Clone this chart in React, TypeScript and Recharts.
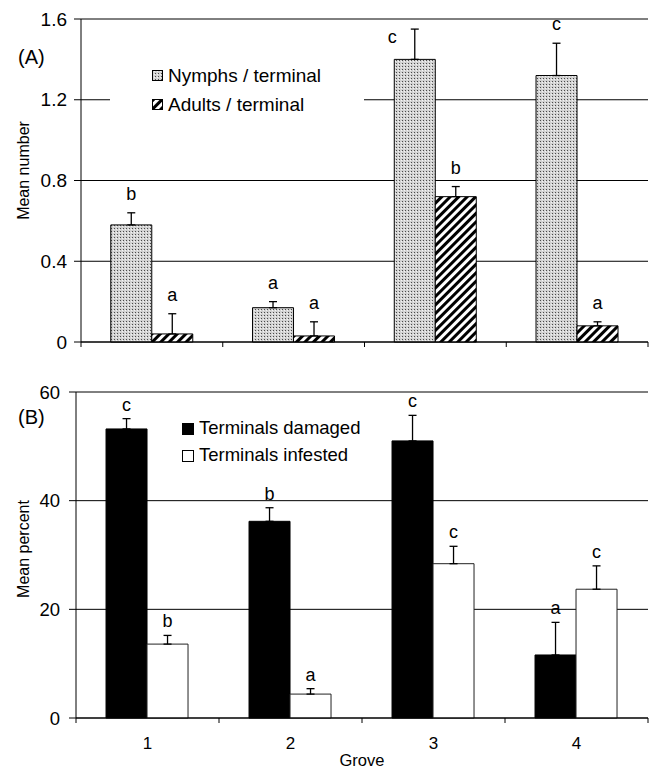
import React from 'react';
import { BarChart, Bar, XAxis, YAxis, CartesianGrid, ErrorBar, LabelList, Legend, Label } from 'recharts';

const groves = ['1', '2', '3', '4'];

// Panel A: mean number per terminal
const seriesNamesA = ['Nymphs / terminal', 'Adults / terminal'];
const nymphs = [0.58, 0.17, 1.4, 1.32];
const nymphsErr = [0.06, 0.03, 0.15, 0.16];
const nymphsLetters = ['b', 'a', 'c', 'c'];
const adults = [0.04, 0.03, 0.72, 0.08];
const adultsErr = [0.1, 0.07, 0.05, 0.02];
const adultsLetters = ['a', 'a', 'b', 'a'];
const ticksA = [0, 0.4, 0.8, 1.2, 1.6];

// Panel B: mean percent of terminals
const seriesNamesB = ['Terminals damaged', 'Terminals infested'];
const damaged = [53.2, 36.2, 51.0, 11.6];
const damagedErr = [1.9, 2.5, 4.7, 6.0];
const damagedLetters = ['c', 'b', 'c', 'a'];
const infested = [13.6, 4.4, 28.4, 23.7];
const infestedErr = [1.6, 1.0, 3.2, 4.3];
const infestedLetters = ['b', 'a', 'c', 'c'];
const ticksB = [0, 20, 40, 60];

const dataA = groves.map((g, i) => ({
  grove: g,
  nymphs: nymphs[i],
  nymphsErr: [0, nymphsErr[i]],
  nymphsLetter: nymphsLetters[i],
  adults: adults[i],
  adultsErr: [0, adultsErr[i]],
  adultsLetter: adultsLetters[i],
}));

const dataB = groves.map((g, i) => ({
  grove: g,
  damaged: damaged[i],
  damagedErr: [0, damagedErr[i]],
  damagedLetter: damagedLetters[i],
  infested: infested[i],
  infestedErr: [0, infestedErr[i]],
  infestedLetter: infestedLetters[i],
}));

const FONT = '"Liberation Sans", Arial, Helvetica, sans-serif';
const LETTER_FS = 18;

const makeLetter = (values: number[], errs: number[], domainMax: number, gap: number) => (props: any) => {
  const vb = props.viewBox || {};
  const x = props.x ?? vb.x;
  const y = props.y ?? vb.y;
  const w = props.width ?? vb.width;
  const h = props.height ?? vb.height;
  const i = props.index;
  const top = Math.min(y, y + h);
  const hh = Math.abs(h);
  const ppu = hh / values[i];
  const errTop = top - errs[i] * ppu;
  const plotTop = top + hh - domainMax * ppu;
  let lx = x + w / 2;
  let ly = errTop - gap;
  if (ly - LETTER_FS * 0.52 < plotTop) {
    lx = x - 2;
    ly = top - 16;
  }
  return (
    <text x={lx} y={ly} textAnchor="middle" fontSize={LETTER_FS} fontFamily={FONT} fill="#000">
      {props.value}
    </text>
  );
};

const yTitle = (text: string, dy: number) => (props: any) => {
  const vb = props.viewBox;
  return (
    <text
      transform={`translate(${vb.x + 29}, ${vb.y + vb.height / 2 + dy}) rotate(-90)`}
      textAnchor="middle"
      fontSize={16}
      fontFamily={FONT}
      fill="#000"
    >
      {text}
    </text>
  );
};

// category tick: boundary tick marks (left edge of each band, plus right edge of the last) and optional label
const makeXTick = (showLabel: boolean) => (props: any) => {
  const { x, y, payload, index, visibleTicksCount } = props;
  const half = payload && typeof payload.offset === 'number' ? payload.offset : 0;
  const left = x - half;
  const right = x + half;
  const isLast = index === (visibleTicksCount ?? groves.length) - 1;
  return (
    <g>
      <line x1={left} y1={y} x2={left} y2={y + 5} stroke="#000" strokeWidth={1} />
      {isLast && <line x1={right} y1={y} x2={right} y2={y + 5} stroke="#000" strokeWidth={1} />}
      {showLabel && (
        <text x={x} y={y + 31} textAnchor="middle" fontSize={17} fontFamily={FONT} fill="#000">
          {payload.value}
        </text>
      )}
    </g>
  );
};

const Patterns = ({ suffix }: { suffix: string }) => (
  <defs>
    <pattern id={`stip${suffix}`} width={3} height={3} patternUnits="userSpaceOnUse">
      <rect width={3} height={3} fill="#d2d2d2" />
      <rect x={0} y={0} width={1} height={1} fill="#4a4a4a" />
      <rect x={2} y={1} width={1} height={1} fill="#f4f4f4" />
    </pattern>
    <pattern id={`hatch${suffix}`} width={6} height={6} patternUnits="userSpaceOnUse" patternTransform="rotate(45)">
      <rect width={6} height={6} fill="#fff" />
      <rect width={3} height={6} fill="#000" />
    </pattern>
  </defs>
);

const LegendA = () => (
  <div
    style={{
      background: '#fff',
      width: 254,
      height: 58,
      boxSizing: 'border-box',
      paddingLeft: 42,
      fontFamily: FONT,
      fontSize: 19,
      color: '#000',
    }}
  >
    {seriesNamesA.map((name, i) => (
      <div key={i} style={{ height: 29, display: 'flex', alignItems: 'center' }}>
        <svg width={11} height={11} style={{ display: 'block' }}>
          <Patterns suffix={`L${i}`} />
          <rect
            x={0.5}
            y={0.5}
            width={10}
            height={10}
            fill={i === 0 ? `url(#stipL${i})` : `url(#hatchL${i})`}
            stroke="#000"
            strokeWidth={1}
          />
        </svg>
        <span style={{ marginLeft: 5, lineHeight: 1 }}>{name}</span>
      </div>
    ))}
  </div>
);

const LegendB = () => (
  <div
    style={{
      width: 220,
      height: 54,
      boxSizing: 'border-box',
      paddingLeft: 22,
      fontFamily: FONT,
      fontSize: 18.5,
      color: '#000',
    }}
  >
    {seriesNamesB.map((name, i) => (
      <div key={i} style={{ height: 27, display: 'flex', alignItems: 'center' }}>
        <svg width={12} height={12} style={{ display: 'block' }}>
          <rect x={0.5} y={0.5} width={11} height={11} fill={i === 0 ? '#000' : '#fff'} stroke="#000" strokeWidth={1} />
        </svg>
        <span style={{ marginLeft: 5, lineHeight: 1 }}>{name}</span>
      </div>
    ))}
  </div>
);

const tickStyle = (fs: number) => ({ fontSize: fs, fill: '#000', fontFamily: FONT });

export default function App() {
  return (
    <div style={{ position: 'absolute', left: 0, top: 0, width: 656, height: 770, background: '#fff' }}>
      <div style={{ position: 'absolute', left: 0, top: 0 }}>
        <BarChart
          width={656}
          height={370}
          data={dataA}
          margin={{ top: 19, right: 8, bottom: 0, left: 0 }}
          barCategoryGap="21%"
          barGap={0}
        >
          <Patterns suffix="A" />
          <CartesianGrid vertical={false} stroke="#000" strokeWidth={1} />
          <XAxis
            dataKey="grove"
            height={28}
            interval={0}
            tickSize={0}
            tickMargin={0}
            tickLine={false}
            tick={makeXTick(false)}
            axisLine={{ stroke: '#000' }}
          />
          <YAxis
            domain={[0, 1.6]}
            ticks={ticksA}
            width={81}
            tickSize={7}
            tickMargin={7}
            tick={tickStyle(19)}
            axisLine={{ stroke: '#000' }}
            tickLine={{ stroke: '#000' }}
            label={<Label content={yTitle('Mean number', -10)} />}
          />
          <YAxis
            yAxisId="r"
            orientation="right"
            domain={[0, 1]}
            width={0}
            tick={false}
            tickLine={false}
            axisLine={{ stroke: '#000' }}
            allowDataOverflow
          />
          <Bar dataKey="nymphs" name={seriesNamesA[0]} fill="url(#stipA)" stroke="#000" strokeWidth={1} isAnimationActive={false}>
            <ErrorBar dataKey="nymphsErr" width={4} stroke="#000" strokeWidth={1.3} direction="y" />
            <LabelList dataKey="nymphsLetter" content={makeLetter(nymphs, nymphsErr, 1.6, 13)} />
          </Bar>
          <Bar dataKey="adults" name={seriesNamesA[1]} fill="url(#hatchA)" stroke="#000" strokeWidth={1} isAnimationActive={false}>
            <ErrorBar dataKey="adultsErr" width={4} stroke="#000" strokeWidth={1.3} direction="y" />
            <LabelList dataKey="adultsLetter" content={makeLetter(adults, adultsErr, 1.6, 13)} />
          </Bar>
          <Legend
            layout="horizontal"
            verticalAlign="middle"
            align="center"
            content={LegendA}
            wrapperStyle={{ left: 110, top: 61, width: 254, height: 58 }}
          />
          <text x={18} y={64} fontSize={20} fontFamily={FONT} fill="#000">(A)</text>
        </BarChart>
      </div>
      <div style={{ position: 'absolute', left: 0, top: 370 }}>
        <BarChart
          width={656}
          height={400}
          data={dataB}
          margin={{ top: 22, right: 8, bottom: 0, left: 0 }}
          barCategoryGap="21%"
          barGap={0}
        >
          <CartesianGrid vertical={false} stroke="#000" strokeWidth={1} />
          <XAxis
            dataKey="grove"
            height={52}
            interval={0}
            tickSize={0}
            tickMargin={0}
            tickLine={false}
            tick={makeXTick(true)}
            axisLine={{ stroke: '#000' }}
          >
            <Label
              value="Grove"
              position="insideBottom"
              offset={4}
              style={{ fontSize: 16.5, fill: '#000', fontFamily: FONT }}
            />
          </XAxis>
          <YAxis
            domain={[0, 60]}
            ticks={ticksB}
            width={76}
            tickSize={7}
            tickMargin={9}
            tick={tickStyle(18.5)}
            axisLine={{ stroke: '#000' }}
            tickLine={{ stroke: '#000' }}
            label={<Label content={yTitle('Mean percent', -6)} />}
          />
          <YAxis
            yAxisId="r"
            orientation="right"
            domain={[0, 1]}
            width={0}
            tick={false}
            tickLine={false}
            axisLine={{ stroke: '#000' }}
            allowDataOverflow
          />
          <Bar dataKey="damaged" name={seriesNamesB[0]} fill="#000" stroke="#000" strokeWidth={1} isAnimationActive={false}>
            <ErrorBar dataKey="damagedErr" width={4} stroke="#000" strokeWidth={1.3} direction="y" />
            <LabelList dataKey="damagedLetter" content={makeLetter(damaged, damagedErr, 60, 8)} />
          </Bar>
          <Bar dataKey="infested" name={seriesNamesB[1]} fill="#fff" stroke="#222" strokeWidth={1} isAnimationActive={false}>
            <ErrorBar dataKey="infestedErr" width={4} stroke="#000" strokeWidth={1.3} direction="y" />
            <LabelList dataKey="infestedLetter" content={makeLetter(infested, infestedErr, 60, 8)} />
          </Bar>
          <Legend
            layout="horizontal"
            verticalAlign="middle"
            align="center"
            content={LegendB}
            wrapperStyle={{ left: 160, top: 45, width: 220, height: 54 }}
          />
          <text x={18} y={54} fontSize={20} fontFamily={FONT} fill="#000">(B)</text>
        </BarChart>
      </div>
    </div>
  );
}
